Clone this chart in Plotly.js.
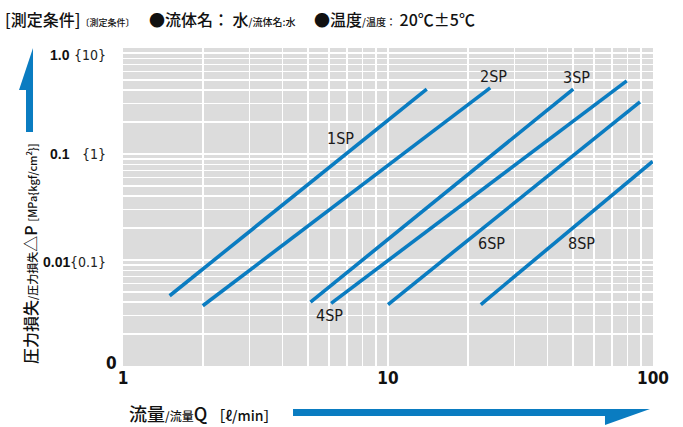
<!DOCTYPE html>
<html>
<head>
<meta charset="utf-8">
<script src="https://cdn.plot.ly/plotly-3.0.1.min.js"></script>
<style>html,body{margin:0;padding:0;background:#fff;}#chart{width:683px;height:427px;}</style>
</head>
<body>
<div id="chart"></div>
<script>
// ---- data ----
const seriesNames = ['1SP', '2SP', '3SP', '4SP', '6SP', '8SP'];
const flowStart = [1.5, 2.0, 5.1, 6.1, 10.0, 22.4];      // Q [l/min]
const flowEnd   = [14.0, 24.3, 50.0, 79.6, 89.3, 99.7];
const dpStart   = [0.0046, 0.0037, 0.0040, 0.0039, 0.0038, 0.0038]; // ΔP [MPa]
const dpEnd     = [0.41, 0.42, 0.41, 0.49, 0.31, 0.085];
const xTickLabels = ['1', '10', '100'];
const yTickLabels = ['1.0', '0.1', '0.01', '0'];
const yTickSub    = ['{10}', '{1}', '{0.1}', ''];

// ---- layout helpers ----
const W = 683, H = 427, L = 123, R = 30, T = 48, B = 61;
const PW = W - L - R, PH = H - T - B;
const px = v => (v - L) / PW;
const py = v => (H - B - v) / PH;
const BLUE = '#0a7cc1';
const NARROW = '"Liberation Sans Narrow", "DejaVu Sans Condensed", "Arial Narrow", sans-serif';
const SANS = '"Liberation Sans", Arial, sans-serif';
const CJK = '"Noto Sans CJK JP", "Noto Sans CJK SC", sans-serif';

const traces = seriesNames.map((n, i) => ({
  type: 'scatter', mode: 'lines', name: n,
  x: [flowStart[i], flowEnd[i]], y: [dpStart[i], dpEnd[i]],
  line: {color: BLUE, width: 3.6}, hoverinfo: 'skip'
}));

// grid ticks
const xGrid = [], yGrid = [];
for (let d = 0; d < 2; d++) for (let k = 1; k < 10; k++) xGrid.push(k * Math.pow(10, d));
xGrid.push(100);
for (let d = -3; d < 0; d++) for (let k = 1; k < 10; k++) yGrid.push(k * Math.pow(10, d));
yGrid.push(1);
const xText = xGrid.map(v => { const idx = [1, 10, 100].indexOf(v); return idx >= 0 ? xTickLabels[idx] : ''; });

// label anchors for the series (data coords)
const labelFlow = [6.6, 25.0, 51.5, 6.0, 24.5, 53.5];
const labelDp   = [0.141, 0.536, 0.525, 0.0030, 0.0142, 0.0142];

const annotations = [];
seriesNames.forEach((n, i) => annotations.push({
  x: Math.log10(labelFlow[i]), y: Math.log10(labelDp[i]), xref: 'x', yref: 'y',
  text: n, showarrow: false, font: {family: NARROW, size: 16, color: '#1a1a1a'}
}));

// y tick labels
const yLabelPix = [55, 154, 262, 363];
yTickLabels.forEach((t, i) => {
  const last = i === 3;
  annotations.push({x: px(last ? 119 : 72), y: py(yLabelPix[i]), xref: 'paper', yref: 'paper',
    xanchor: 'right', yanchor: 'middle', text: t, showarrow: false,
    font: {family: last ? NARROW : SANS, size: last ? 17 : 14, weight: 'bold', color: '#111'}});
  if (yTickSub[i]) annotations.push({x: px(108), y: py(yLabelPix[i]), xref: 'paper', yref: 'paper',
    xanchor: 'right', yanchor: 'middle', text: yTickSub[i], showarrow: false,
    font: {family: NARROW, size: 14, color: '#222'}});
});

// header
annotations.push({x: px(3), y: py(19), xref: 'paper', yref: 'paper', xanchor: 'left', yanchor: 'middle',
  showarrow: false, text: '[測定条件]<span style="font-size:9px">〔測定条件〕</span>',
  font: {family: CJK, size: 16, weight: 500, color: '#111'}});
annotations.push({x: px(147), y: py(19), xref: 'paper', yref: 'paper', xanchor: 'left', yanchor: 'middle',
  showarrow: false, text: '●流体名： 水<span style="font-size:10px">/流体名:水</span>',
  font: {family: CJK, size: 16, weight: 500, color: '#111'}});
annotations.push({x: px(312), y: py(19), xref: 'paper', yref: 'paper', xanchor: 'left', yanchor: 'middle',
  showarrow: false, text: '●温度<span style="font-size:10px">/温度：</span> 20℃±5℃',
  font: {family: CJK, size: 16, weight: 500, color: '#111'}});

// axis titles
annotations.push({x: px(30), y: py(254), xref: 'paper', yref: 'paper', xanchor: 'center', yanchor: 'middle',
  textangle: -90, showarrow: false,
  text: '圧力損失<span style="font-size:11px">/圧力損失</span>△P <span style="font-size:11px">[MPa{kgf/cm<sup>2</sup>}]</span>',
  font: {family: CJK, size: 16, weight: 500, color: '#111'}});
annotations.push({x: px(127), y: py(413), xref: 'paper', yref: 'paper', xanchor: 'left', yanchor: 'middle',
  showarrow: false,
  text: '流量<span style="font-size:12px">/流量</span>Q <span style="font-size:14px">［ℓ/min］</span>',
  font: {family: CJK, size: 18, weight: 500, color: '#111'}});

// decorative arrows
const pathOf = pts => 'M ' + pts.map(p => px(p[0]).toFixed(4) + ',' + py(p[1]).toFixed(4)).join(' L ') + ' Z';
const shapes = [
  {type: 'path', xref: 'paper', yref: 'paper', fillcolor: BLUE, line: {width: 0},
   path: pathOf([[26, 132], [33, 132], [33, 48], [19, 90], [26, 90]])},
  {type: 'path', xref: 'paper', yref: 'paper', fillcolor: BLUE, line: {width: 0},
   path: pathOf([[293, 409], [650, 409], [605, 425], [605, 416], [293, 416]])}
];

const layout = {
  width: W, height: H, margin: {l: L, r: R, t: T, b: B},
  paper_bgcolor: '#fff', plot_bgcolor: '#dcdcdc', showlegend: false,
  xaxis: {type: 'log', range: [0, 2], tickmode: 'array', tickvals: xGrid, ticktext: xText, tickangle: 0,
    showgrid: true, gridcolor: '#fff', gridwidth: 1.5, zeroline: false, showline: false, ticks: '',
    tickfont: {family: NARROW, size: 17, weight: 'bold', color: '#111'}, fixedrange: true},
  yaxis: {type: 'log', range: [-3, 0], tickmode: 'array', tickvals: yGrid, showticklabels: false,
    showgrid: true, gridcolor: '#fff', gridwidth: 1.5, zeroline: false, showline: false, ticks: '', fixedrange: true},
  annotations: annotations, shapes: shapes
};

Plotly.newPlot('chart', traces, layout, {staticPlot: true, displayModeBar: false});
</script>
</body>
</html>
